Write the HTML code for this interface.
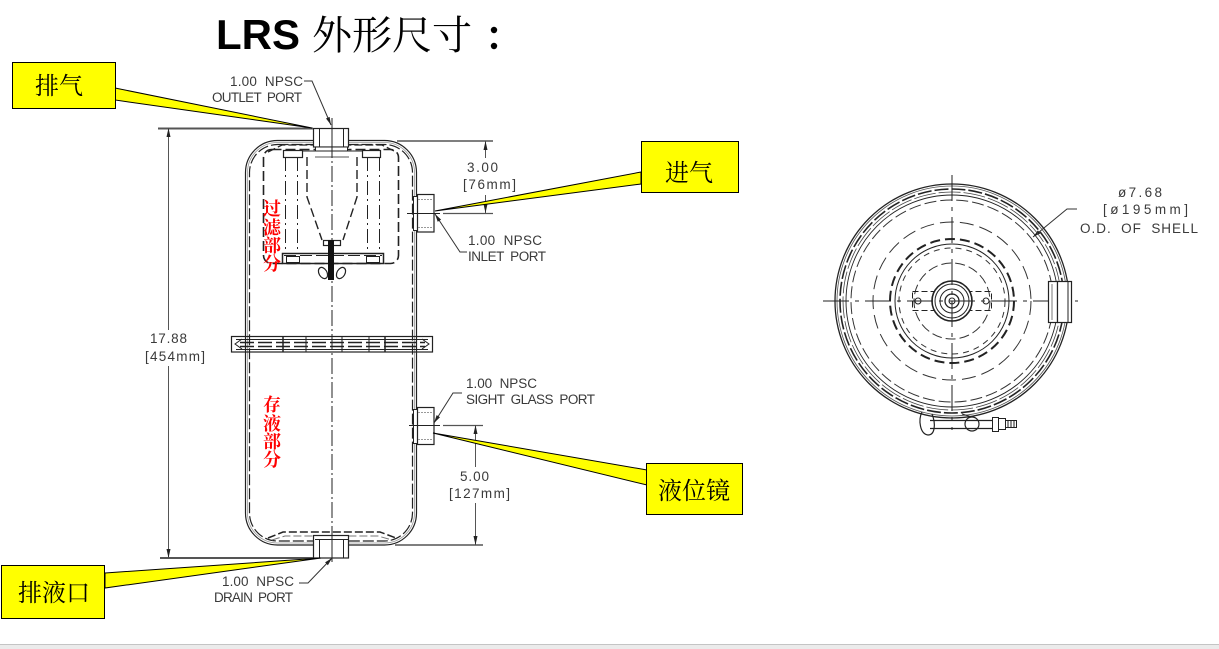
<!DOCTYPE html>
<html><head><meta charset="utf-8"><style>
html,body{margin:0;padding:0;background:#fff;}
svg{display:block;}
.t{font-family:"Liberation Sans",sans-serif;font-size:13.5px;fill:#3a3a3a;white-space:pre;}
.cn{font-family:"Liberation Serif","Noto Serif CJK SC",serif;fill:#000;}
.red{font-family:"Liberation Serif","Noto Serif CJK SC",serif;font-size:18px;fill:#ff0000;font-weight:700;}
</style></head><body>
<svg width="1219" height="649" viewBox="0 0 1219 649" xmlns="http://www.w3.org/2000/svg">
<rect width="1219" height="649" fill="#fff"/>
<rect x="0" y="644" width="1219" height="5" fill="#ebebeb"/>
<line x1="0" y1="644.5" x2="1219" y2="644.5" stroke="#c4c4c4"/>

<!-- Title -->
<text x="216" y="49" font-family="Liberation Sans, sans-serif" font-weight="bold" font-size="42">LRS</text>
<text x="312" y="49" class="cn" font-size="40">外形尺寸</text>
<circle cx="494" cy="30" r="3.2" fill="#000"/>
<circle cx="494" cy="46" r="3.2" fill="#000"/>

<!-- ===== Side view ===== -->
<g fill="none" stroke="#222" stroke-width="1">
  <rect x="245.5" y="140.5" width="171" height="404.5" rx="32" stroke="#222" stroke-width="1.2"/>
  <rect x="247.5" y="142.5" width="167" height="400.5" rx="30" stroke="#999" stroke-width="0.8"/>
  <rect x="249.5" y="144.5" width="163" height="396.5" rx="28" stroke="#222" stroke-width="1.2" stroke-dasharray="11,3"/>
  <polyline points="268,152 282,145 382,145 396,152" stroke-dasharray="8,3" stroke-width="1.3"/>
  <polyline points="268,538 283,532 380,532 396,538" stroke-dasharray="8,3" stroke-width="1.5"/>
  <polyline points="272,540 285,536 378,536 392,540" stroke-dasharray="8,3" stroke="#777"/>

  <rect x="263.5" y="149.5" width="135" height="114" rx="8" stroke-width="1.6" stroke-dasharray="10,4"/>
  <rect x="283.5" y="150.5" width="19" height="7" stroke-width="1.2"/>
  <rect x="362.5" y="150.5" width="18" height="7" stroke-width="1.2"/>
  <line x1="303" y1="151" x2="362" y2="151"/>
  <g stroke-dasharray="14,4,2,4">
    <line x1="285.5" y1="157" x2="285.5" y2="253"/>
    <line x1="297.5" y1="157" x2="297.5" y2="253"/>
    <line x1="367.5" y1="157" x2="367.5" y2="253"/>
    <line x1="379.5" y1="157" x2="379.5" y2="253"/>
  </g>
  <polyline points="307,157 307,197 322,240" stroke-dasharray="9,4" stroke-width="1.4"/>
  <polyline points="357,157 357,197 343,240" stroke-dasharray="9,4" stroke-width="1.4"/>
  <line x1="315" y1="157" x2="349" y2="157" stroke="#555"/>
  <rect x="323.5" y="240.5" width="17" height="5" stroke-width="1.2"/>
  <rect x="282.5" y="253.5" width="101" height="10" stroke-width="1.5"/>
  <line x1="284" y1="255.5" x2="382" y2="255.5" stroke-dasharray="12,4"/>
  <rect x="286.5" y="256.5" width="13" height="6"/>
  <rect x="366.5" y="256.5" width="13" height="6"/>
  <ellipse cx="323" cy="273" rx="4" ry="6" transform="rotate(-30 323 273)" stroke-width="1.2"/>
  <ellipse cx="341" cy="273" rx="4" ry="6" transform="rotate(30 341 273)" stroke-width="1.2"/>

  <rect x="231.5" y="336.5" width="201" height="15.5" stroke-width="1.2"/>
  <line x1="236" y1="339.5" x2="428" y2="339.5"/>
  <line x1="236" y1="349.5" x2="428" y2="349.5"/>
  <line x1="240" y1="342.5" x2="425" y2="342.5" stroke-dasharray="14,4" stroke-width="1.5"/>
  <line x1="240" y1="346.5" x2="425" y2="346.5" stroke-dasharray="14,4" stroke-width="1.5"/>
  <polyline points="242,339 235,344 242,349"/>
  <polyline points="422,339 429,344 422,349"/>
  <line x1="283" y1="337" x2="283" y2="352" stroke-width="1.5"/>
  <line x1="306" y1="337" x2="306" y2="352"/>
  <line x1="342" y1="337" x2="342" y2="352"/>
  <line x1="369" y1="337" x2="369" y2="352"/>
  <line x1="385" y1="337" x2="385" y2="352" stroke-width="1.5"/>

  <line x1="332" y1="118" x2="332" y2="562" stroke-dasharray="16,3,2,3"/>

  <rect x="313.5" y="128.5" width="35" height="18.5" fill="#fff" stroke-width="1.2"/>
  <line x1="319.5" y1="129" x2="319.5" y2="147"/>
  <line x1="343.5" y1="129" x2="343.5" y2="147"/>
  <rect x="315.5" y="147" width="32" height="4" fill="#fff"/>
  <line x1="332" y1="118" x2="332" y2="151"/>

  <rect x="313.5" y="535.5" width="35" height="22.5" fill="#fff" stroke-width="1.2"/>
  <line x1="315" y1="539.5" x2="348" y2="539.5"/>
  <line x1="319.5" y1="540" x2="319.5" y2="558"/>
  <line x1="343.5" y1="540" x2="343.5" y2="558"/>
  <line x1="332" y1="535" x2="332" y2="562"/>

  <rect x="413.5" y="196.5" width="4" height="34" fill="#fff"/>
  <rect x="417.5" y="194.5" width="16.5" height="37.5" fill="#fff" stroke-width="1.2"/>
  <line x1="418" y1="199.5" x2="433" y2="199.5" stroke="#999" stroke-dasharray="2,1"/>
  <line x1="418" y1="227.5" x2="433" y2="227.5" stroke="#999" stroke-dasharray="2,1"/>
  <rect x="413.5" y="409.5" width="4" height="34" fill="#fff"/>
  <rect x="417.5" y="407.5" width="16.5" height="37" fill="#fff" stroke-width="1.2"/>
  <line x1="418" y1="412.5" x2="433" y2="412.5" stroke="#999" stroke-dasharray="2,1"/>
  <line x1="418" y1="439.5" x2="433" y2="439.5" stroke="#999" stroke-dasharray="2,1"/>
</g>
<rect x="328" y="240" width="6" height="40" fill="#111"/>

<!-- dimensions -->
<g fill="none" stroke="#555">
  <line x1="158" y1="128.5" x2="313" y2="128.5" stroke-width="2"/>
  <line x1="160" y1="558" x2="313" y2="558" stroke-width="2"/>
  <line x1="168.5" y1="128" x2="168.5" y2="330"/>
  <line x1="168.5" y1="366" x2="168.5" y2="558"/>

  <line x1="397" y1="141" x2="493" y2="141" stroke-width="1.5"/>
  <line x1="485.5" y1="141" x2="485.5" y2="158"/>
  <line x1="485.5" y1="195" x2="485.5" y2="213"/>
  <line x1="443" y1="213.5" x2="493" y2="213.5" stroke-width="1.3"/>
  <line x1="407" y1="213.5" x2="440" y2="213.5" stroke="#222"/>

  <line x1="443" y1="425.5" x2="483" y2="425.5" stroke-width="1.3"/>
  <line x1="409" y1="425.5" x2="440" y2="425.5" stroke="#222"/>
  <line x1="475.5" y1="425" x2="475.5" y2="467"/>
  <line x1="475.5" y1="503" x2="475.5" y2="545"/>
  <line x1="395" y1="545" x2="483" y2="545" stroke-width="1.5"/>
</g>
<g fill="#222">
  <polygon points="168.5,128 166.5,137 170.5,137"/>
  <polygon points="168.5,558 166.5,549 170.5,549"/>
  <polygon points="485.5,141 483.5,150 487.5,150"/>
  <polygon points="485.5,213 483.5,204 487.5,204"/>
  <polygon points="475.5,425 473.5,434 477.5,434"/>
  <polygon points="475.5,545 473.5,536 477.5,536"/>
</g>

<!-- leaders -->
<g fill="none" stroke="#333">
  <polyline points="304,81 312,81 331,125"/>
  <polyline points="435,214 460,252 467,252"/>
  <polyline points="434,423 453,393 462,393"/>
  <polyline points="332,558 308,583 299,583"/>
  <polyline points="1033,237 1067,209 1077,209"/>
</g>
<g fill="#222">
  <polygon points="331,125 329.6,116.9 326,118.5"/>
  <polygon points="435,214 441.1,219.6 437.7,221.8"/>
  <polygon points="434,423 440,417.3 436.6,415.1"/>
  <polygon points="332,558 327.9,565.2 325.1,562.4"/>
  <polygon points="1033,237 1040.5,233.4 1037.9,230.4"/>
</g>

<!-- labels -->
<text class="t" x="230" y="86" textLength="73" lengthAdjust="spacing">1.00  NPSC</text>
<text class="t" x="212" y="102" textLength="90" lengthAdjust="spacing">OUTLET  PORT</text>
<text class="t" x="467" y="172" textLength="31" lengthAdjust="spacing">3.00</text>
<text class="t" x="463" y="189" textLength="53" lengthAdjust="spacing">[76mm]</text>
<text class="t" x="468" y="245" textLength="74" lengthAdjust="spacing">1.00  NPSC</text>
<text class="t" x="468" y="261" textLength="78" lengthAdjust="spacing">INLET  PORT</text>
<text class="t" x="150" y="343" textLength="37" lengthAdjust="spacing">17.88</text>
<text class="t" x="145" y="361" textLength="60" lengthAdjust="spacing">[454mm]</text>
<text class="t" x="466" y="388" textLength="71" lengthAdjust="spacing">1.00  NPSC</text>
<text class="t" x="466" y="404" textLength="129" lengthAdjust="spacing">SIGHT  GLASS  PORT</text>
<text class="t" x="460" y="481" textLength="29" lengthAdjust="spacing">5.00</text>
<text class="t" x="449" y="498" textLength="61" lengthAdjust="spacing">[127mm]</text>
<text class="t" x="222" y="586" textLength="72" lengthAdjust="spacing">1.00  NPSC</text>
<text class="t" x="214" y="602" textLength="79" lengthAdjust="spacing">DRAIN  PORT</text>
<text class="t" x="1118" y="197" textLength="44" lengthAdjust="spacing">ø7.68</text>
<text class="t" x="1103" y="214" textLength="85" lengthAdjust="spacing">[ø195mm]</text>
<text class="t" x="1080" y="233" textLength="118" lengthAdjust="spacing">O.D.  OF  SHELL</text>

<!-- red vertical labels -->
<g class="red" text-anchor="middle">
  <text x="272" y="215">过</text>
  <text x="272" y="234">滤</text>
  <text x="272" y="252">部</text>
  <text x="272" y="270">分</text>
  <text x="272" y="411">存</text>
  <text x="272" y="430">液</text>
  <text x="272" y="448">部</text>
  <text x="272" y="466">分</text>
</g>

<!-- ===== Top view ===== -->
<g fill="none" stroke="#222">
  <circle cx="952" cy="301" r="117" stroke-width="1.3"/>
  <circle cx="952" cy="301" r="115" stroke="#555" stroke-width="0.8"/>
  <circle cx="952" cy="301" r="112" stroke-width="1.6" stroke-dasharray="14,3"/>
  <circle cx="952" cy="301" r="109" stroke="#444" stroke-width="0.8" stroke-dasharray="22,3"/>
  <circle cx="952" cy="301" r="106" stroke-width="0.9"/>
  <circle cx="952" cy="301" r="101" stroke="#333" stroke-dasharray="12,4"/>
  <circle cx="952" cy="301" r="79" stroke="#333" stroke-dasharray="14,6"/>
  <circle cx="952" cy="301" r="62" stroke-width="2" stroke-dasharray="10,5"/>
  <circle cx="952" cy="301" r="57"/>
  <circle cx="952" cy="301" r="53" stroke="#333" stroke-dasharray="6,5"/>
  <circle cx="952" cy="301" r="38" stroke="#333" stroke-dasharray="10,4"/>
  <rect x="912.5" y="291.5" width="79" height="19" stroke-dasharray="6,3"/>
  <circle cx="918" cy="301" r="3"/>
  <circle cx="986" cy="301" r="3"/>
  <circle cx="952" cy="301" r="20" stroke-width="1.6" fill="#fff"/>
  <circle cx="952" cy="301" r="17"/>
  <circle cx="952" cy="301" r="12"/>
  <circle cx="952" cy="301" r="7" stroke-width="1.3"/>
  <circle cx="952" cy="301" r="3"/>
  <line x1="823" y1="301" x2="1078" y2="301" stroke-dasharray="26,6,4,6"/>
  <line x1="952" y1="175" x2="952" y2="430" stroke-dasharray="26,6,4,6"/>
  <rect x="1048.5" y="281.5" width="9" height="41" fill="#fff" stroke-width="1.2"/>
  <rect x="1057.5" y="281.5" width="14" height="41" fill="#fff" stroke-width="1.2"/>
  <line x1="1052" y1="284" x2="1052" y2="320" stroke="#777"/>
  <line x1="1068" y1="282" x2="1068" y2="322"/>
  <line x1="930" y1="420.5" x2="992" y2="420.5" stroke-width="1.2"/>
  <line x1="930" y1="428.5" x2="992" y2="428.5" stroke-width="1.2"/>
  <path d="M922,412 C918,420 920,434 928,435 C935,435 936,424 932,414" stroke-width="1.2"/>
  <circle cx="972" cy="424" r="7" stroke-width="1.2"/>
  <path d="M962,414 L972,417" />
  <rect x="992.5" y="417.5" width="6" height="14"/>
  <rect x="998.5" y="418.5" width="7" height="11"/>
  <rect x="1005.5" y="420.5" width="11" height="7"/>
  <line x1="1008" y1="421" x2="1008" y2="427"/>
  <line x1="1011" y1="421" x2="1011" y2="427"/>
  <line x1="1014" y1="421" x2="1014" y2="427"/>
</g>

<!-- ===== Yellow callouts ===== -->
<g stroke="#000" stroke-width="1" fill="#ffff00">
  <polygon points="115,88 312,128 115,100"/>
  <polygon points="641,172 435,211 641,184"/>
  <polygon points="647,470 433,433 647,485"/>
  <polygon points="105,573 321,558 105,588"/>
  <rect x="12.5" y="62.5" width="103" height="46"/>
  <rect x="641.5" y="141.5" width="97" height="51"/>
  <rect x="646.5" y="463.5" width="96" height="51"/>
  <rect x="1.5" y="565.5" width="103" height="53"/>
</g>
<text x="35" y="94" class="cn" font-size="24">排气</text>
<text x="665" y="181" class="cn" font-size="24">进气</text>
<text x="658" y="499" class="cn" font-size="24">液位镜</text>
<text x="18" y="601" class="cn" font-size="24">排液口</text>
</svg>
</body></html>
